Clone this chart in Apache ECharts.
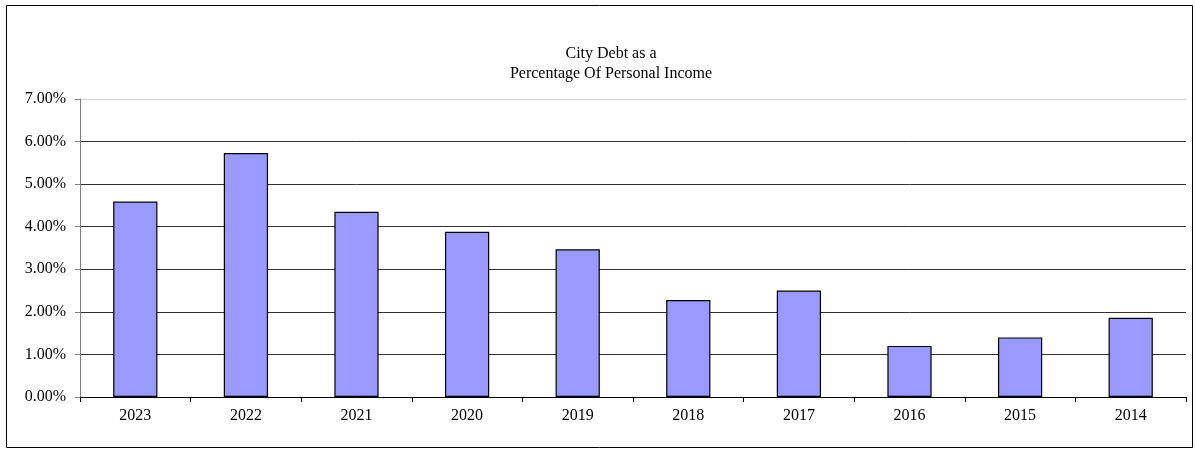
<!DOCTYPE html>
<html>
<head>
<meta charset="utf-8">
<script src="https://cdn.jsdelivr.net/npm/echarts@6/dist/echarts.min.js"></script>
<style>html,body{margin:0;padding:0;background:#fff}#c{width:1195px;height:449px}</style>
</head>
<body>
<div id="c"></div>
<script>
const categories = ['2023','2022','2021','2020','2019','2018','2017','2016','2015','2014'];
const debtPct = [4.59, 5.73, 4.35, 3.88, 3.47, 2.28, 2.50, 1.20, 1.40, 1.86];
const titleLines = ['City Debt as a', 'Percentage Of Personal Income'];
const font = '"Liberation Serif", "Times New Roman", serif';

const chart = echarts.init(document.getElementById('c'), null, {renderer: 'canvas'});
chart.setOption({
  animation: false,
  backgroundColor: '#fff',
  title: {
    text: titleLines.join('\n'),
    left: 606, top: 39, textAlign: 'center',
    textStyle: {fontFamily: font, fontSize: 16, fontWeight: 'normal', color: '#000', lineHeight: 20}
  },
  graphic: [{
    type: 'rect', shape: {x: 6.5, y: 5.5, width: 1186, height: 442},
    style: {fill: 'none', stroke: '#000', lineWidth: 1}, silent: true, z: -1
  }],
  grid: {left: 80, right: 9, top: 99, bottom: 52, containLabel: false},
  xAxis: {
    type: 'category', data: categories,
    axisLine: {lineStyle: {color: '#000', width: 1}},
    axisTick: {show: true, alignWithLabel: false, length: 5, lineStyle: {color: '#000'}},
    axisLabel: {fontFamily: font, fontSize: 16, color: '#000', margin: 11}
  },
  yAxis: {
    type: 'value', min: 0, max: 7, interval: 1,
    axisLine: {show: true, lineStyle: {color: '#808080', width: 1}},
    axisTick: {show: true, length: 5, lineStyle: {color: '#808080'}},
    axisLabel: {fontFamily: font, fontSize: 16, color: '#000', margin: 14,
      formatter: v => v.toFixed(2) + '%'},
    splitLine: {show: true, lineStyle: {color: ['#333','#333','#333','#333','#333','#333','#333','#d0d0d0'], width: 1}}
  },
  series: [{
    type: 'bar', data: debtPct, barWidth: '40%',
    itemStyle: {color: '#9999ff', borderColor: '#000', borderWidth: 1.2}
  }]
});
</script>
</body>
</html>
